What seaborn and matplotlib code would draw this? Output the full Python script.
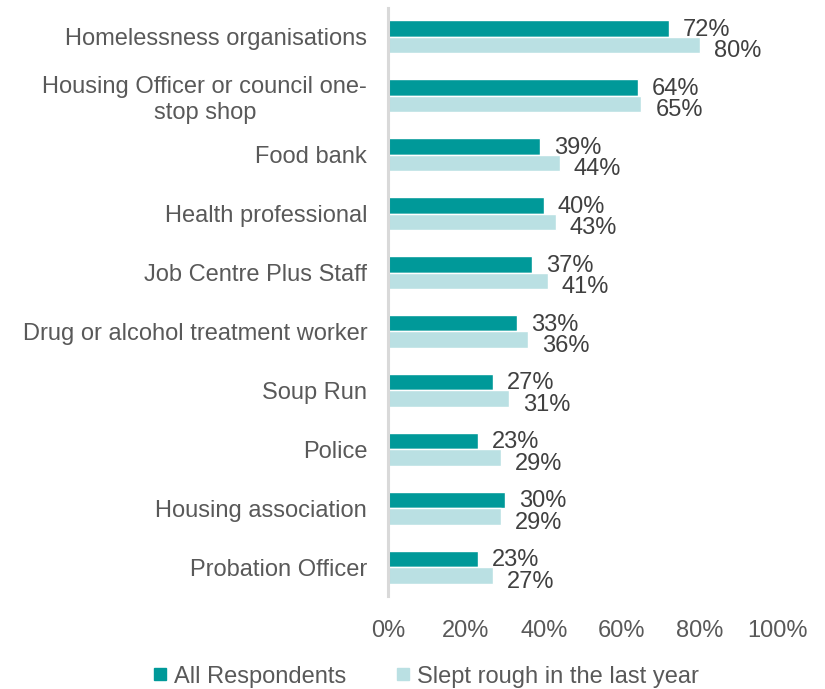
import matplotlib
matplotlib.use("Agg")
import matplotlib.pyplot as plt
import seaborn as sns
import pandas as pd
from matplotlib.lines import Line2D

categories = [
    "Homelessness organisations",
    "Housing Officer or council one-\nstop shop",
    "Food bank",
    "Health professional",
    "Job Centre Plus Staff",
    "Drug or alcohol treatment worker",
    "Soup Run",
    "Police",
    "Housing association",
    "Probation Officer",
]
all_respondents = [72, 64, 39, 40, 37, 33, 27, 23, 30, 23]
slept_rough = [80, 65, 44, 43, 41, 36, 31, 29, 29, 27]
series_names = ["All Respondents", "Slept rough in the last year"]
x_ticks = [0, 20, 40, 60, 80, 100]

colors = ["#009999", "#BAE0E3"]
text_color = "#595959"
label_color = "#404040"
font_size = 17

df = pd.DataFrame({
    "category": categories * 2,
    "series": [series_names[0]] * len(categories) + [series_names[1]] * len(categories),
    "value": all_respondents + slept_rough,
})

sns.set_theme(style="white")
plt.rcParams["font.family"] = ["Liberation Sans", "DejaVu Sans"]

fig = plt.figure(figsize=(8.25, 6.89), dpi=100)
ax = fig.add_axes([0.4703, 0.1343, 0.4727, 0.8548])

sns.barplot(data=df, y="category", x="value", hue="series", orient="h",
            palette=colors, width=0.56, ax=ax, legend=False, saturation=1,
            order=categories, hue_order=series_names)

# value labels beside each bar; the second series sits a little lower
for cont, dy in zip(ax.containers, [-1.0, -4.5]):
    for bar in cont:
        w = bar.get_width()
        ax.annotate(f"{int(round(w))}%",
                    xy=(w, bar.get_y() + bar.get_height() / 2),
                    xytext=(10, dy), textcoords="offset points",
                    ha="left", va="center", fontsize=font_size,
                    color=label_color)

ax.set_xlim(0, 100)
ax.set_ylim(len(categories) - 0.5, -0.5)
ax.set_xticks(x_ticks)
ax.set_xticklabels([f"{t}%" for t in x_ticks])
ax.set_xlabel("")
ax.set_ylabel("")
ax.tick_params(axis="x", length=0, pad=17, labelsize=font_size, labelcolor=text_color)
ax.tick_params(axis="y", length=0, pad=15, labelsize=font_size, labelcolor=text_color)
for lab in ax.get_yticklabels():
    lab.set_horizontalalignment("right")
    lab.set_multialignment("center")
for side in ["top", "right", "bottom"]:
    ax.spines[side].set_visible(False)
ax.spines["left"].set_color("#D9D9D9")
ax.spines["left"].set_linewidth(2.2)
ax.grid(False)

handles = [Line2D([], [], marker="s", linestyle="none", markersize=8,
                  markerfacecolor=c, markeredgecolor=c) for c in colors]
fig.legend(handles, series_names, loc="center", bbox_to_anchor=(0.515, 0.018),
           ncol=2, frameon=False, fontsize=font_size, labelcolor=text_color,
           handletextpad=0.2, columnspacing=2.0, handlelength=0.8)

fig.savefig("out.png", dpi=100)
